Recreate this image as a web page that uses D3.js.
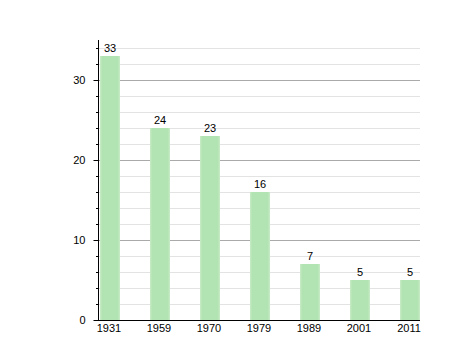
<!DOCTYPE html>
<html><head><meta charset="utf-8">
<script src="https://cdn.jsdelivr.net/npm/d3@7"></script>
<style>body{margin:0;background:#fff}svg{display:block}text{font-family:"Liberation Sans",Arial,sans-serif;font-size:11px;fill:#000}</style>
</head><body><svg id="c" width="458" height="360"></svg>
<script>
const years = ["1931","1959","1970","1979","1989","2001","2011"];
const values = [33,24,23,16,7,5,5];
const majorTicks = [0,10,20,30];
const minorTicks = d3.range(2,35,2);

const svg = d3.select("#c");
const y = d3.scaleLinear().domain([0,35]).range([320,40]);
const x = d3.scaleBand().domain(years).range([85,435]).paddingInner(0.6).paddingOuter(0.3);
const x0 = 98, x1 = 420;

const defs = svg.append("defs");
const g = defs.append("linearGradient").attr("id","bg").attr("x1","0").attr("x2","1").attr("y1","0").attr("y2","0");
g.append("stop").attr("offset","0").attr("stop-color","#c8ebc8");
g.append("stop").attr("offset","0.12").attr("stop-color","#b2e3b2");
g.append("stop").attr("offset","0.88").attr("stop-color","#b2e3b2");
g.append("stop").attr("offset","1").attr("stop-color","#c8ebc8");
defs.append("filter").attr("id","bl").append("feGaussianBlur").attr("stdDeviation",0.6);

// grid
svg.append("g").selectAll("line").data(minorTicks.filter(d=>d%10!==0)).join("line")
  .attr("x1",x0).attr("x2",x1).attr("y1",d=>y(d)+0.5).attr("y2",d=>y(d)+0.5)
  .attr("stroke","#e3e3e3");
svg.append("g").selectAll("line").data(majorTicks.filter(d=>d>0)).join("line")
  .attr("x1",x0).attr("x2",x1).attr("y1",d=>y(d)+0.5).attr("y2",d=>y(d)+0.5)
  .attr("stroke","#aaaaaa");

// bars
svg.append("g").selectAll("rect").data(values).join("rect")
  .attr("x",(d,i)=>x(years[i])).attr("width",x.bandwidth())
  .attr("y",d=>y(d)).attr("height",d=>y(0)-y(d))
  .attr("fill","url(#bg)").attr("filter","url(#bl)");

svg.append("g").selectAll("text").data(values).join("text")
  .attr("x",(d,i)=>x(years[i])+x.bandwidth()/2).attr("y",d=>y(d)-4)
  .attr("text-anchor","middle").text(d=>d);

// y axis
const ya = svg.append("g").attr("transform",`translate(${x0+0.5},0)`)
  .call(d3.axisLeft(y).tickValues(majorTicks).tickSize(5).tickPadding(8).tickFormat(d3.format("d")));
ya.select(".domain").remove();
ya.selectAll("text").style("font-size","11px").attr("fill","#000").style("font-family","Liberation Sans, Arial, sans-serif");
ya.selectAll("line").attr("stroke","#000");
svg.append("g").selectAll("line").data(minorTicks).join("line")
  .attr("x1",x0-2).attr("x2",x0).attr("y1",d=>y(d)+0.5).attr("y2",d=>y(d)+0.5).attr("stroke","#000");
svg.append("line").attr("x1",x0+0.5).attr("x2",x0+0.5).attr("y1",40).attr("y2",320).attr("stroke","#000");

// x axis
svg.append("line").attr("x1",x0).attr("x2",x1).attr("y1",320.5).attr("y2",320.5).attr("stroke","#000");
svg.append("g").selectAll("text").data(years).join("text")
  .attr("x",d=>x(d)+x.bandwidth()/2-1).attr("y",332).attr("text-anchor","middle").text(d=>d);
</script></body></html>
